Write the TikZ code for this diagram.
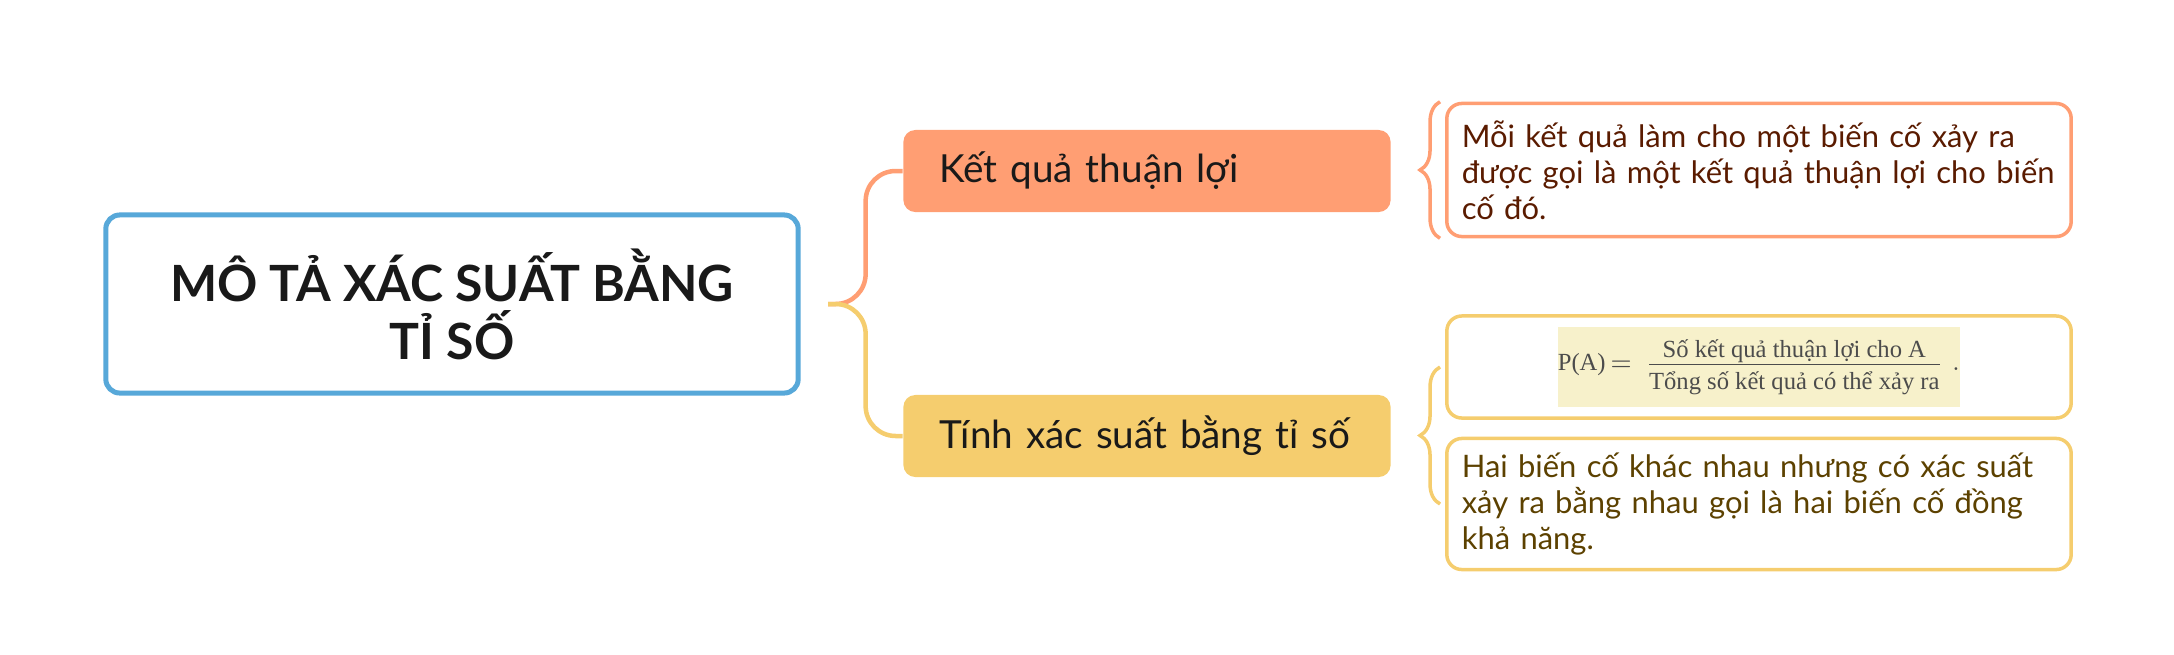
\documentclass[tikz,border=0pt]{standalone}
\usepackage{fontspec}
\setmainfont{Lato}
\newfontfamily\formulafont{Liberation Serif}
\usetikzlibrary{decorations.pathreplacing}

\definecolor{rootblue}{HTML}{57A8D9}
\definecolor{salmon}{HTML}{FF9E73}
\definecolor{mustard}{HTML}{F5CD6E}
\definecolor{brownA}{HTML}{5A1B00}
\definecolor{brownB}{HTML}{5C4100}
\definecolor{paper}{HTML}{F7F1CB}

\begin{document}
\begin{tikzpicture}[
  x=0.01cm, y=-0.01cm,
  rnode/.style={draw=rootblue,line width=0.05cm,rounded corners=0.14cm,
    minimum width=6.92cm,minimum height=1.78cm,align=center,
    font=\fontsize{14.2}{16.5}\selectfont\bfseries,text=black!90},
  bnode/.style={rounded corners=0.12cm,minimum width=4.87cm,minimum height=0.82cm,
    text width=4.15cm,inner xsep=0.36cm,align=left,
    font=\fontsize{11}{13}\selectfont,text=black!90},
  dnode/.style={line width=0.035cm,rounded corners=0.15cm,minimum width=6.24cm,
    text width=5.94cm,inner xsep=0.15cm,align=left,
    font=\fontsize{8.8}{10.2}\selectfont},
  link/.style={line width=0.045cm,rounded corners=0.3cm},
  curly/.style={line width=0.035cm,decorate,decoration={brace,amplitude=0.2cm}}
]
  \useasboundingbox (0,0) rectangle (2174,654);

  % root
  \node[rnode] (root) at (452,304) {MÔ TẢ XÁC SUẤT BẰNG\\TỈ SỐ};
  \coordinate (join) at (828,304);

  % branches
  \node[bnode,fill=salmon] (fav) at (1147,171) {Kết quả thuận lợi};
  \node[bnode,fill=mustard] (prob) at (1147,436) {Tính xác suất bằng tỉ số};

  % details
  \node[dnode,draw=salmon,text=brownA,minimum height=1.33cm] (favtxt) at (1759,170)
    {Mỗi kết quả làm cho một biến cố xảy ra\\được gọi là một kết quả thuận lợi cho biến\\cố đó.};
  \node[dnode,draw=mustard,minimum height=1.02cm] (formula) at (1759,367) {};
  \node[fill=paper,minimum width=4.01cm,minimum height=0.79cm,inner sep=0pt,
    text=black!70,font=\formulafont\fontsize{7}{7}\selectfont] (frac) at (formula.center)
    {P(A)$\,=\,\frac{\mbox{\rule[-0.4ex]{0pt}{2.4ex}Số kết quả thuận lợi cho A}}{\mbox{\rule[-0.9ex]{0pt}{2.9ex}Tổng số kết quả có thể xảy ra}}\;.$};
  \node[dnode,draw=mustard,text=brownB,minimum height=1.31cm] (equal) at (1759,504)
    {Hai biến cố khác nhau nhưng có xác suất\\xảy ra bằng nhau gọi là hai biến cố đồng\\khả năng.};

  % links
  \draw[link,salmon] (join) -| ([xshift=-0.37cm]fav.west) -- (fav.west);
  \draw[link,mustard] (join) -| ([xshift=-0.37cm]prob.west) -- (prob.west);

  % braces
  \draw[curly,salmon] ([xshift=-0.05cm]favtxt.south west) -- ([xshift=-0.05cm]favtxt.north west);
  \draw[curly,mustard] ([xshift=-0.05cm]equal.west) -- ([xshift=-0.05cm]formula.west);
\end{tikzpicture}
\end{document}
